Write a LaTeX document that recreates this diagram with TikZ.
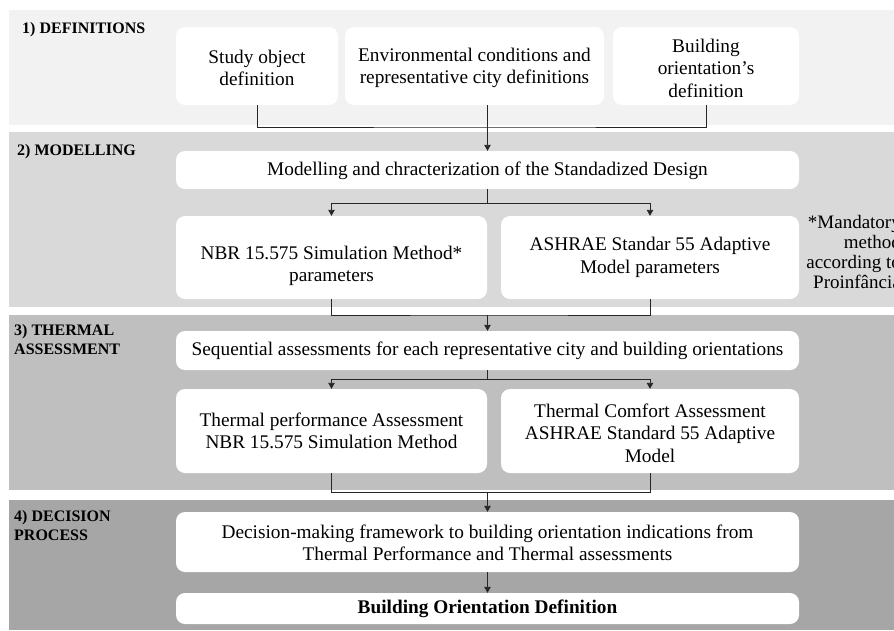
\documentclass[tikz,border=0pt]{standalone}
\usepackage{fontspec}
\setmainfont{Liberation Serif}
\usetikzlibrary{arrows.meta}
\definecolor{bandA}{HTML}{F2F2F2}
\definecolor{bandB}{HTML}{D9D9D9}
\definecolor{bandC}{HTML}{BFBFBF}
\definecolor{bandD}{HTML}{A6A6A6}
\definecolor{lineclr}{HTML}{262626}
\begin{document}
\begin{tikzpicture}[x=1pt,y=-1pt,
  box/.style={draw=none,fill=white,rounded corners=9pt,inner sep=0pt},
  txt/.style={align=center,font=\fontsize{19.3}{22.5}\selectfont,inner sep=0pt},
  lbl/.style={align=left,anchor=north west,font=\fontsize{16}{19}\selectfont\bfseries,inner sep=0pt},
  note/.style={align=right,anchor=north east,font=\fontsize{19}{20}\selectfont,inner sep=0pt},
  conn/.style={draw=lineclr,line width=0.9pt},
  arr/.style={conn,-{Triangle[length=6pt,width=6.5pt]}}]
\useasboundingbox (0,0) rectangle (894,630);
\clip (0,0) rectangle (894,630);
\fill[white] (0,0) rectangle (894,630);
% bands
\fill[bandA] (9,10) rectangle (894,125);
\fill[bandB] (9,132) rectangle (894,307);
\fill[bandC] (9,315) rectangle (894,490);
\fill[bandD] (9,500) rectangle (894,630);
% band labels
\node[lbl] (L1) at (22,22) {1) DEFINITIONS};
\node[lbl] (L2) at (17,144) {2) MODELLING};
\node[lbl] (L3) at (14,324) {3) THERMAL\\ASSESSMENT};
\node[lbl] (L4) at (14,510) {4) DECISION\\PROCESS};
% boxes
\node[box,minimum width=162pt,minimum height=78pt] (Study) at (257,66) {};
\node[box,minimum width=259pt,minimum height=78pt] (Env) at (474.5,66) {};
\node[box,minimum width=186pt,minimum height=78pt] (Bld) at (706,66) {};
\node[box,minimum width=623pt,minimum height=38pt] (Mod) at (487.5,170) {};
\node[box,minimum width=311pt,minimum height=83pt] (NBR) at (331.5,257.5) {};
\node[box,minimum width=298pt,minimum height=83pt] (ASH) at (650,257.5) {};
\node[box,minimum width=623pt,minimum height=39pt] (Seq) at (487.5,350.5) {};
\node[box,minimum width=311pt,minimum height=84pt] (TP) at (331.5,431) {};
\node[box,minimum width=298pt,minimum height=84pt] (TC) at (650,431) {};
\node[box,minimum width=623pt,minimum height=60pt] (Dec) at (487.5,542) {};
\node[box,minimum width=623pt,minimum height=31pt] (BOD) at (487.5,608.5) {};
% texts
\node[txt] (tStudy) at (257,68) {Study object\\definition};
\node[txt] (tEnv) at (474.5,68) {Environmental conditions and\\representative city definitions};
\node[txt] (tBld) at (706,68) {Building\\orientation’s\\definition};
\node[txt] (tMod) at (487.5,171) {Modelling and chracterization of the Standadized Design};
\node[txt] (tNBR) at (331.5,266) {NBR 15.575 Simulation Method*\\parameters};
\node[txt] (tASH) at (650,257.5) {ASHRAE Standar 55 Adaptive\\Model parameters};
\node[txt] (tSeq) at (487.5,351) {Sequential assessments for each representative city and building orientations};
\node[txt] (tTP) at (331.5,431) {Thermal performance Assessment\\NBR 15.575 Simulation Method};
\node[txt] (tTC) at (650,433) {Thermal Comfort Assessment\\ASHRAE Standard 55 Adaptive\\Model};
\node[txt] (tDec) at (487.5,543) {Decision-making framework to building orientation indications from\\Thermal Performance and Thermal assessments};
\node[txt,font=\fontsize{19.3}{22.5}\selectfont\bfseries] (tBOD) at (487.5,609) {Building Orientation Definition};
\node[note] (Note) at (901,215) {*Mandatory\\method\\according to\\Proinfância};
% connectors
\coordinate (j1) at (487.5,127);
\coordinate (j2) at (487.5,203);
\coordinate (j3) at (487.5,315);
\coordinate (j4) at (487.5,379);
\coordinate (j5) at (487.5,492);
\draw[conn] (Study.south) |- (j1) -| (Bld.south);
\draw[arr] (Env.south -| Mod.north) -- (Mod.north);
\draw[conn] (Mod.south) -- (j2);
\draw[arr] (j2) -| (NBR.north);
\draw[arr] (j2) -| (ASH.north);
\draw[conn] (NBR.south) |- (j3) -| (ASH.south);
\draw[arr] (j3) -- (Seq.north);
\draw[conn] (Seq.south) -- (j4);
\draw[arr] (j4) -| (TP.north);
\draw[arr] (j4) -| (TC.north);
\draw[conn] (TP.south) |- (j5) -| (TC.south);
\draw[arr] (j5) -- (Dec.north);
\draw[arr] (Dec.south) -- (BOD.north);
\end{tikzpicture}
\end{document}
